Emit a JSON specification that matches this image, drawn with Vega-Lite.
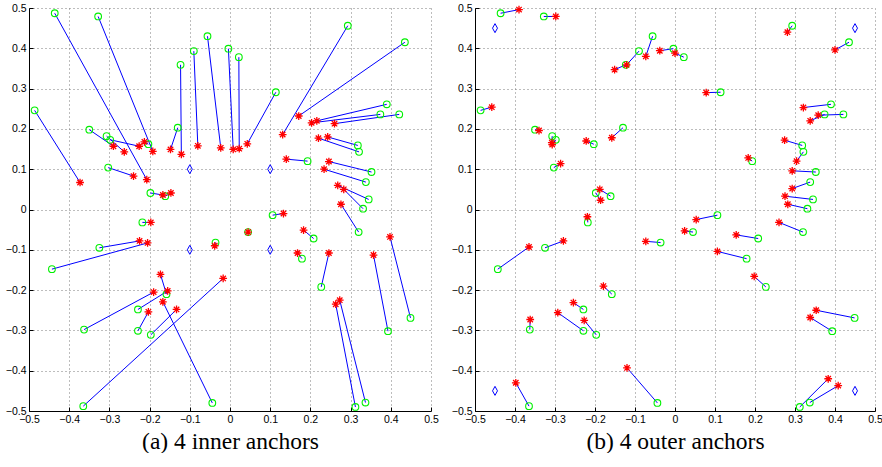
{
  "$schema": "https://vega.github.io/schema/vega-lite/v6.json",
  "background": "white",
  "padding": {"left": 5, "top": 3, "right": 0, "bottom": 0},
  "spacing": 44,
  "bounds": "flush",
  "datasets": {
    "nodes": [
      {"gx": -0.436, "gy": 0.487, "ax": -0.207, "ay": 0.074, "bx": -0.390, "by": 0.496},
      {"gx": -0.328, "gy": 0.479, "ax": -0.192, "ay": 0.144, "bx": -0.298, "by": 0.479},
      {"gx": -0.486, "gy": 0.246, "ax": -0.373, "ay": 0.067, "bx": -0.458, "by": 0.254},
      {"gx": -0.350, "gy": 0.198, "ax": -0.290, "ay": 0.157, "bx": -0.340, "by": 0.196},
      {"gx": -0.307, "gy": 0.182, "ax": -0.263, "ay": 0.143, "bx": -0.308, "by": 0.166},
      {"gx": -0.298, "gy": 0.173, "ax": -0.226, "ay": 0.157, "bx": -0.307, "by": 0.161},
      {"gx": -0.203, "gy": 0.162, "ax": -0.213, "ay": 0.168, "bx": -0.222, "by": 0.170},
      {"gx": -0.303, "gy": 0.104, "ax": -0.240, "ay": 0.083, "bx": -0.286, "by": 0.114},
      {"gx": -0.198, "gy": 0.041, "ax": -0.167, "ay": 0.036, "bx": -0.186, "by": 0.023},
      {"gx": -0.161, "gy": 0.033, "ax": -0.147, "ay": 0.041, "bx": -0.188, "by": 0.050},
      {"gx": -0.130, "gy": 0.203, "ax": -0.148, "ay": 0.149, "bx": -0.158, "by": 0.178},
      {"gx": -0.123, "gy": 0.359, "ax": -0.121, "ay": 0.137, "bx": -0.151, "by": 0.347},
      {"gx": -0.090, "gy": 0.393, "ax": -0.080, "ay": 0.158, "bx": -0.121, "by": 0.359},
      {"gx": -0.056, "gy": 0.430, "ax": -0.023, "ay": 0.153, "bx": -0.073, "by": 0.380},
      {"gx": -0.004, "gy": 0.399, "ax": 0.008, "ay": 0.149, "bx": -0.038, "by": 0.394},
      {"gx": 0.022, "gy": 0.378, "ax": 0.023, "ay": 0.151, "bx": 0.000, "by": 0.388},
      {"gx": 0.114, "gy": 0.291, "ax": 0.043, "ay": 0.163, "bx": 0.078, "by": 0.290},
      {"gx": 0.293, "gy": 0.456, "ax": 0.131, "ay": 0.186, "bx": 0.281, "by": 0.440},
      {"gx": 0.435, "gy": 0.415, "ax": 0.171, "ay": 0.232, "bx": 0.400, "by": 0.396},
      {"gx": 0.390, "gy": 0.261, "ax": 0.216, "ay": 0.220, "bx": 0.321, "by": 0.253},
      {"gx": 0.374, "gy": 0.236, "ax": 0.203, "ay": 0.215, "bx": 0.338, "by": 0.220},
      {"gx": 0.421, "gy": 0.236, "ax": 0.260, "ay": 0.213, "bx": 0.358, "by": 0.234},
      {"gx": 0.318, "gy": 0.159, "ax": 0.243, "ay": 0.180, "bx": 0.274, "by": 0.172},
      {"gx": 0.321, "gy": 0.143, "ax": 0.220, "ay": 0.177, "bx": 0.304, "by": 0.120},
      {"gx": 0.193, "gy": 0.120, "ax": 0.140, "ay": 0.125, "bx": 0.183, "by": 0.128},
      {"gx": 0.352, "gy": 0.093, "ax": 0.246, "ay": 0.119, "bx": 0.293, "by": 0.096},
      {"gx": 0.338, "gy": 0.068, "ax": 0.234, "ay": 0.100, "bx": 0.293, "by": 0.052},
      {"gx": 0.345, "gy": 0.025, "ax": 0.268, "ay": 0.060, "bx": 0.275, "by": 0.033},
      {"gx": 0.331, "gy": 0.002, "ax": 0.283, "ay": 0.050, "bx": 0.282, "by": 0.013},
      {"gx": 0.320, "gy": -0.056, "ax": 0.276, "ay": 0.013, "bx": 0.260, "by": -0.032},
      {"gx": 0.106, "gy": -0.014, "ax": 0.133, "ay": -0.010, "bx": 0.053, "by": -0.025},
      {"gx": 0.045, "gy": -0.056, "ax": 0.045, "ay": -0.056, "bx": 0.024, "by": -0.053},
      {"gx": 0.208, "gy": -0.072, "ax": 0.183, "ay": -0.051, "bx": 0.153, "by": -0.063},
      {"gx": 0.179, "gy": -0.122, "ax": 0.168, "ay": -0.108, "bx": 0.106, "by": -0.104},
      {"gx": 0.227, "gy": -0.192, "ax": 0.246, "ay": -0.108, "bx": 0.198, "by": -0.166},
      {"gx": 0.393, "gy": -0.302, "ax": 0.357, "ay": -0.113, "bx": 0.338, "by": -0.268},
      {"gx": 0.449, "gy": -0.269, "ax": 0.398, "ay": -0.068, "bx": 0.353, "by": -0.250},
      {"gx": 0.312, "gy": -0.490, "ax": 0.263, "ay": -0.235, "bx": 0.383, "by": -0.420},
      {"gx": 0.337, "gy": -0.479, "ax": 0.273, "ay": -0.225, "bx": 0.408, "by": -0.437},
      {"gx": -0.218, "gy": -0.032, "ax": -0.197, "ay": -0.032, "bx": -0.219, "by": -0.018},
      {"gx": -0.325, "gy": -0.095, "ax": -0.225, "ay": -0.078, "bx": -0.279, "by": -0.078},
      {"gx": -0.443, "gy": -0.148, "ax": -0.205, "ay": -0.083, "bx": -0.365, "by": -0.093},
      {"gx": -0.036, "gy": -0.082, "ax": -0.038, "ay": -0.090, "bx": -0.073, "by": -0.079},
      {"gx": -0.158, "gy": -0.210, "ax": -0.173, "ay": -0.161, "bx": -0.179, "by": -0.190},
      {"gx": -0.363, "gy": -0.298, "ax": -0.190, "ay": -0.205, "bx": -0.362, "by": -0.273},
      {"gx": -0.229, "gy": -0.248, "ax": -0.155, "ay": -0.202, "bx": -0.254, "by": -0.231},
      {"gx": -0.229, "gy": -0.301, "ax": -0.203, "ay": -0.254, "bx": -0.293, "by": -0.256},
      {"gx": -0.197, "gy": -0.311, "ax": -0.133, "ay": -0.248, "bx": -0.227, "by": -0.275},
      {"gx": -0.365, "gy": -0.488, "ax": -0.017, "ay": -0.171, "bx": -0.398, "by": -0.430},
      {"gx": -0.044, "gy": -0.480, "ax": -0.167, "ay": -0.229, "bx": -0.120, "by": -0.393}
    ],
    "anchors": [
      {"ix": -0.1, "iy": 0.1, "ox": -0.45, "oy": 0.45},
      {"ix": 0.1, "iy": 0.1, "ox": 0.45, "oy": 0.45},
      {"ix": -0.1, "iy": -0.1, "ox": -0.45, "oy": -0.45},
      {"ix": 0.1, "iy": -0.1, "ox": 0.45, "oy": -0.45}
    ]
  },
  "config": {
    "view": {"stroke": null},
    "axis": {
      "values": [-0.5, -0.4, -0.3, -0.2, -0.1, 0, 0.1, 0.2, 0.3, 0.4, 0.5],
      "format": ".1~f",
      "grid": true,
      "gridDash": [1, 3],
      "gridColor": "#7a7a7a",
      "gridWidth": 1,
      "tickSize": -4,
      "tickColor": "black",
      "domainColor": "black",
      "labelFont": "Liberation Sans",
      "labelFontSize": 10.5,
      "labelColor": "black",
      "labelFlush": false,
      "labelOverlap": false,
      "titleFont": "Liberation Serif",
      "titleFontSize": 23.5,
      "titleFontWeight": "normal",
      "titleColor": "black"
    },
    "axisX": {"labelPadding": 7, "titlePadding": 5},
    "axisY": {"labelPadding": 7, "title": null}
  },
  "hconcat": [
    {
      "width": 402,
      "height": 403,
      "layer": [
        {
          "data": {"name": "nodes"},
          "mark": {"type": "rule", "color": "#0000ff", "strokeWidth": 1},
          "encoding": {
            "x": {"field": "gx", "type": "quantitative", "scale": {"domain": [-0.5, 0.5], "nice": false, "zero": false}, "axis": {"title": "(a) 4 inner anchors"}},
            "y": {"field": "gy", "type": "quantitative", "scale": {"domain": [-0.5, 0.5], "nice": false, "zero": false}, "axis": {"title": null}},
            "x2": {"field": "ax"},
            "y2": {"field": "ay"}
          }
        },
        {
          "data": {"name": "nodes"},
          "mark": {"type": "point", "shape": "circle", "filled": false, "color": "#00f000", "size": 45, "strokeWidth": 1.1, "opacity": 1},
          "encoding": {
            "x": {"field": "gx", "type": "quantitative"},
            "y": {"field": "gy", "type": "quantitative"}
          }
        },
        {
          "data": {"name": "nodes"},
          "mark": {"type": "point", "shape": "M0,-1L0,1M-1,0L1,0M-0.7,-0.7L0.7,0.7M-0.7,0.7L0.7,-0.7", "filled": false, "color": "#ff0000", "size": 60, "strokeWidth": 1.3, "opacity": 1},
          "encoding": {
            "x": {"field": "ax", "type": "quantitative"},
            "y": {"field": "ay", "type": "quantitative"}
          }
        },
        {
          "data": {"name": "anchors"},
          "mark": {"type": "point", "shape": "M0,-1L0.55,0L0,1L-0.55,0Z", "filled": false, "color": "#0000ff", "size": 81, "strokeWidth": 1, "opacity": 1},
          "encoding": {
            "x": {"field": "ix", "type": "quantitative"},
            "y": {"field": "iy", "type": "quantitative"}
          }
        }
      ]
    },
    {
      "width": 400,
      "height": 403,
      "layer": [
        {
          "data": {"name": "nodes"},
          "mark": {"type": "rule", "color": "#0000ff", "strokeWidth": 1},
          "encoding": {
            "x": {"field": "gx", "type": "quantitative", "scale": {"domain": [-0.5, 0.5], "nice": false, "zero": false}, "axis": {"title": "(b) 4 outer anchors"}},
            "y": {"field": "gy", "type": "quantitative", "scale": {"domain": [-0.5, 0.5], "nice": false, "zero": false}, "axis": {"title": null}},
            "x2": {"field": "bx"},
            "y2": {"field": "by"}
          }
        },
        {
          "data": {"name": "nodes"},
          "mark": {"type": "point", "shape": "circle", "filled": false, "color": "#00f000", "size": 45, "strokeWidth": 1.1, "opacity": 1},
          "encoding": {
            "x": {"field": "gx", "type": "quantitative"},
            "y": {"field": "gy", "type": "quantitative"}
          }
        },
        {
          "data": {"name": "nodes"},
          "mark": {"type": "point", "shape": "M0,-1L0,1M-1,0L1,0M-0.7,-0.7L0.7,0.7M-0.7,0.7L0.7,-0.7", "filled": false, "color": "#ff0000", "size": 60, "strokeWidth": 1.3, "opacity": 1},
          "encoding": {
            "x": {"field": "bx", "type": "quantitative"},
            "y": {"field": "by", "type": "quantitative"}
          }
        },
        {
          "data": {"name": "anchors"},
          "mark": {"type": "point", "shape": "M0,-1L0.55,0L0,1L-0.55,0Z", "filled": false, "color": "#0000ff", "size": 81, "strokeWidth": 1, "opacity": 1},
          "encoding": {
            "x": {"field": "ox", "type": "quantitative"},
            "y": {"field": "oy", "type": "quantitative"}
          }
        }
      ]
    }
  ]
}
